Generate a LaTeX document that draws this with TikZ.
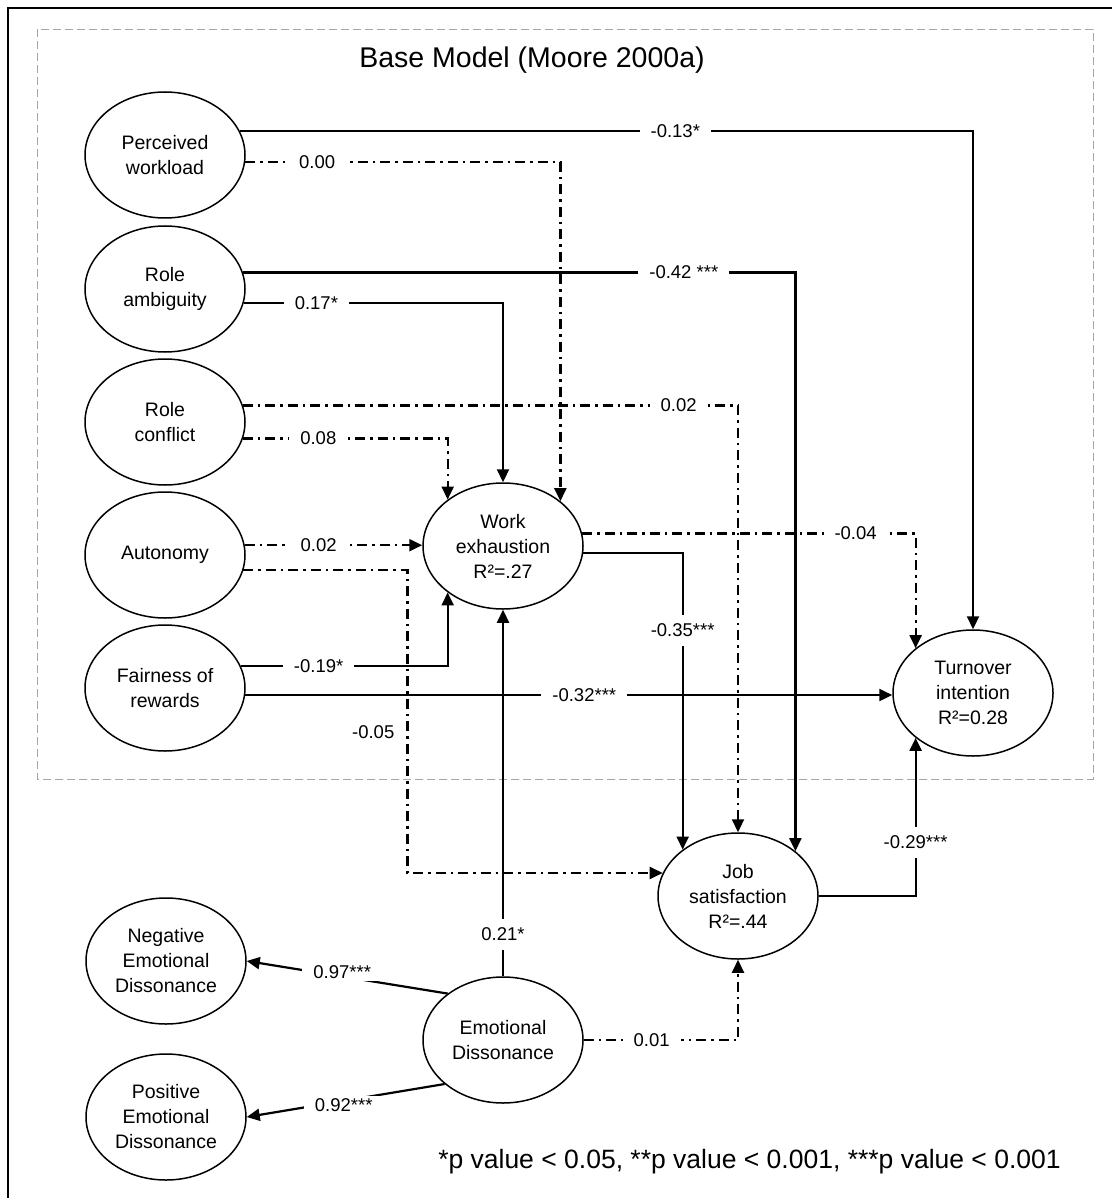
\documentclass[tikz,border=0pt]{standalone}
\usepackage{fontspec}
\setmainfont{Liberation Sans}
\usetikzlibrary{shapes.geometric,arrows.meta}

\begin{document}
\begin{tikzpicture}[x=1pt,y=-1pt,
  latent/.style={draw,ellipse,line width=1.5pt,minimum width=160pt,minimum height=126pt,
    inner sep=0pt,align=center,font=\fontsize{19.5}{25}\selectfont},
  sig/.style={line width=2.2pt,-{Triangle[length=13pt,width=12pt]}},
  nsig/.style={sig,dash pattern=on 10pt off 5pt on 2.5pt off 5pt},
  coef/.style={fill=white,inner xsep=11pt,inner ysep=2pt,font=\fontsize{18.5}{22}\selectfont},
  coefv/.style={coef,inner xsep=2pt,inner ysep=9pt},
  coefside/.style={inner sep=0pt,left=12pt,font=\fontsize{18.5}{22}\selectfont}]
  \useasboundingbox (0,0) rectangle (1112,1198);
  \draw[line width=1.6pt] (8,1198) |- (1112,8);
  \draw[gray!70,line width=.9pt,dash pattern=on 8pt off 4pt] (37,29) rectangle (1093,779);
  \node (title) at (532,60) [font=\fontsize{28.5}{32}\selectfont] {Base Model (Moore 2000a)};

  \node (pw) at (165,155) [latent] {Perceived\\workload};
  \node (ra) at (165,289) [latent] {Role\\ambiguity};
  \node (rc) at (165,422) [latent] {Role\\conflict};
  \node (au) at (165,555) [latent] {Autonomy};
  \node (fr) at (165,688) [latent] {Fairness of\\rewards};
  \node (we) at (503,546) [latent] {Work\\exhaustion\\R²=.27};
  \node (ti) at (973,693) [latent] {Turnover\\intention\\R²=0.28};
  \node (js) at (738,896) [latent] {Job\\satisfaction\\R²=.44};
  \node (ed) at (503,1040) [latent] {Emotional\\Dissonance};
  \node (ned) at (166,961) [latent] {Negative\\Emotional\\Dissonance};
  \node (ped) at (166,1117) [latent] {Positive\\Emotional\\Dissonance};

  % perceived workload
  \draw[sig] (pw.18) -| node[coef,pos=.297] {-0.13*} (ti.north);
  \draw[nsig] (pw.-5) -| node[coef,pos=.114] {0.00} (we.38);
  % role ambiguity
  \draw[sig] (ra.12) -| node[coef,pos=.399] {-0.42 ***} (js.38);
  \draw[sig] (ra.-10) -| node[coef,pos=.14] {0.17*} (we.north);
  % role conflict
  \draw[nsig] (rc.12) -| node[coef,pos=.44] {0.02} (js.north);
  \draw[nsig] (rc.-12) -| node[coef,pos=.184] {0.08} (we.140);
  % autonomy
  \draw[nsig] (au.7) -- node[coef,pos=.416] {0.02} (au.7 -| we.west);
  \draw[nsig] (au.-11) -- ++(164,0) |- node[coefside,pos=.267] {-0.05} (js.163);
  % fairness of rewards
  \draw[sig] (fr.16) -| node[coef,pos=.188] {-0.19*} (we.220);
  \draw[sig] (fr.-5) -- node[coef,pos=.524] {-0.32***} (fr.-5 -| ti.west);
  % work exhaustion, job satisfaction
  \draw[nsig] (we.9) -| node[coef,pos=.41] {-0.04} (ti.142);
  \draw[sig] (we.-5) -| node[coefv,pos=.63] {-0.35***} (js.140);
  \draw[sig] (js.east) -| node[coefv,pos=.67] {-0.29***} (ti.218);
  % emotional dissonance
  \draw[sig] (ed.north) -- node[coefv,pos=.114] {0.21*} (we.south);
  \draw[nsig] (ed.east) -| node[coef,pos=.22] {0.01} (js.south);
  \draw[sig] (ed.140) -- node[coef,pos=.525,yshift=4pt] {0.97***} (ned.east);
  \draw[sig] (ed.217) -- node[coef,pos=.51,yshift=-4pt] {0.92***} (ped.east);

  \node (note) at (749.5,1162) [font=\fontsize{26.5}{30}\selectfont] {*p value < 0.05, **p value < 0.001, ***p value < 0.001};
\end{tikzpicture}
\end{document}
